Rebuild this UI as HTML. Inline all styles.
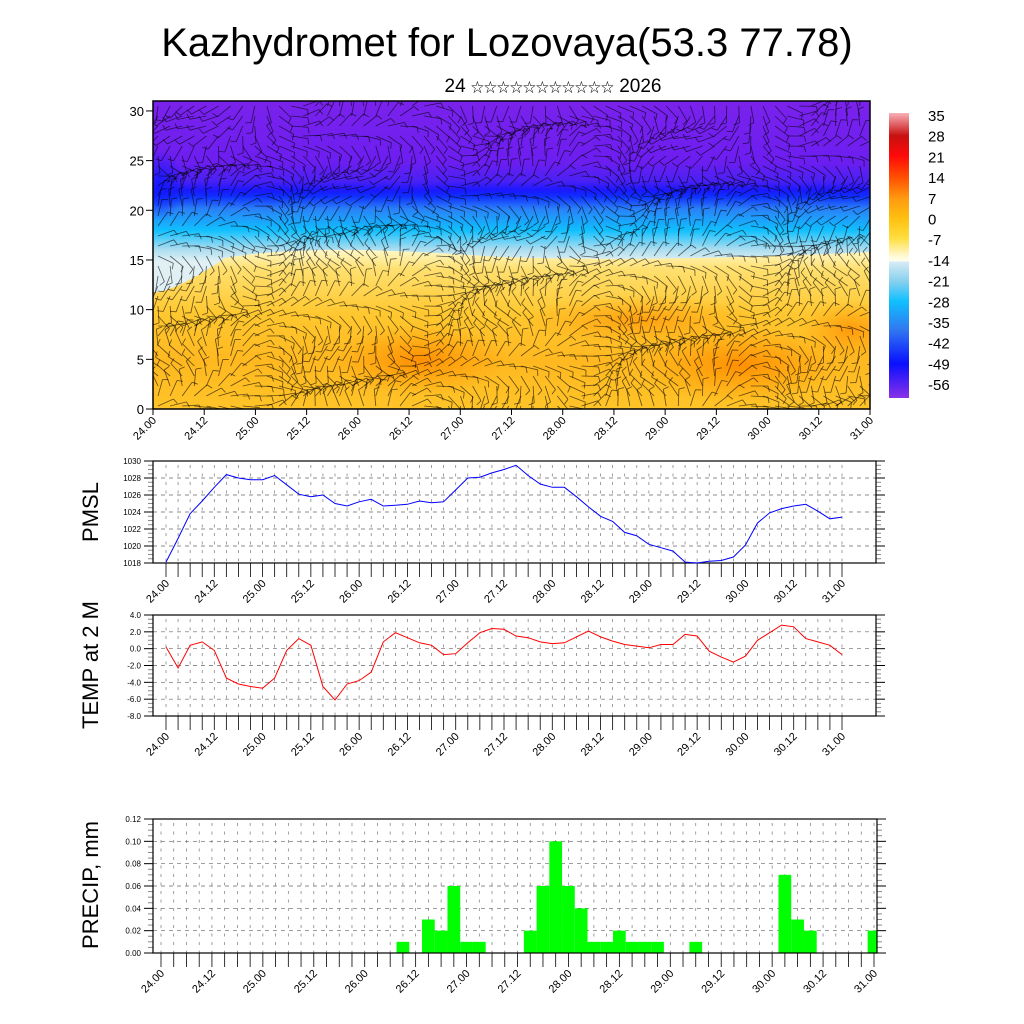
<!DOCTYPE html>
<html><head><meta charset="utf-8">
<style>
html,body{margin:0;padding:0;background:#fff;}
svg{display:block;font-family:"Liberation Sans","Noto Sans CJK SC",sans-serif;}
</style></head>
<body>
<svg id="chart" width="1024" height="1024" viewBox="0 0 1024 1024" xmlns="http://www.w3.org/2000/svg">
<defs>
<linearGradient id="coldGrad" x1="0" y1="101" x2="0" y2="409" gradientUnits="userSpaceOnUse">
  <stop offset="0" stop-color="#7a22ec"/>
  <stop offset="0.2" stop-color="#6c1ef0"/>
  <stop offset="0.26" stop-color="#4a20f4"/>
  <stop offset="0.29" stop-color="#1a18ff"/>
  <stop offset="0.31" stop-color="#1030ff"/>
  <stop offset="0.35" stop-color="#2a80f8"/>
  <stop offset="0.42" stop-color="#10c0ff"/>
  <stop offset="0.48" stop-color="#a8dcf0"/>
  <stop offset="0.52" stop-color="#e0f0f4"/>
  <stop offset="1" stop-color="#e0f0f4"/>
</linearGradient>
<linearGradient id="warmGrad" x1="0" y1="250" x2="0" y2="409" gradientUnits="userSpaceOnUse">
  <stop offset="0" stop-color="#fff8c8"/>
  <stop offset="0.12" stop-color="#ffe070"/>
  <stop offset="0.4" stop-color="#ffc830"/>
  <stop offset="0.7" stop-color="#ffb820"/>
  <stop offset="1" stop-color="#ffc428"/>
</linearGradient>
<radialGradient id="orangeBlob">
  <stop offset="0" stop-color="#ff8a00" stop-opacity="0.9"/>
  <stop offset="1" stop-color="#ff9a00" stop-opacity="0"/>
</radialGradient>
<radialGradient id="blueBlob">
  <stop offset="0" stop-color="#1018ff" stop-opacity="0.9"/>
  <stop offset="1" stop-color="#1018ff" stop-opacity="0"/>
</radialGradient>
<linearGradient id="cbarGrad" x1="0" y1="0" x2="0" y2="1">
  <stop offset="0" stop-color="#f8b0b8"/>
  <stop offset="0.08" stop-color="#c81010"/>
  <stop offset="0.15" stop-color="#ff0a0a"/>
  <stop offset="0.22" stop-color="#ff4a00"/>
  <stop offset="0.3" stop-color="#ff9a10"/>
  <stop offset="0.37" stop-color="#ffc010"/>
  <stop offset="0.44" stop-color="#ffde40"/>
  <stop offset="0.5" stop-color="#fff8d0"/>
  <stop offset="0.52" stop-color="#fffff0"/>
  <stop offset="0.521" stop-color="#d8ecf4"/>
  <stop offset="0.59" stop-color="#88d0f0"/>
  <stop offset="0.66" stop-color="#10c0ff"/>
  <stop offset="0.76" stop-color="#3078f0"/>
  <stop offset="0.88" stop-color="#0a10ff"/>
  <stop offset="1" stop-color="#8a30e8"/>
</linearGradient>
<clipPath id="topClip"><rect x="153" y="101" width="717" height="308"/></clipPath>
<clipPath id="precClip"><rect x="153" y="819" width="724" height="134"/></clipPath>
</defs>

<text x="507" y="56" text-anchor="middle" font-size="40">Kazhydromet for Lozovaya(53.3 77.78)</text>
<text x="553" y="92" text-anchor="middle" font-size="19">24 <tspan font-size="13">☆☆☆☆☆☆☆☆☆☆☆</tspan> 2026</text>

<g id="topPanel">
  <g clip-path="url(#topClip)">
    <rect x="153" y="101" width="717" height="308" fill="url(#coldGrad)"/>
    <ellipse cx="160" cy="185" rx="25" ry="35" fill="url(#blueBlob)"/>
    <path d="M153,293 C175,290 200,275 225,258 C300,245 400,250 500,257 C600,260 700,260 870,252 L870,409 L153,409 Z" fill="url(#warmGrad)"/>
    <ellipse cx="420" cy="360" rx="90" ry="35" fill="url(#orangeBlob)"/>
    <ellipse cx="740" cy="365" rx="100" ry="38" fill="url(#orangeBlob)"/>
    <ellipse cx="640" cy="320" rx="120" ry="25" fill="url(#orangeBlob)" opacity="0.7"/>
    <ellipse cx="850" cy="330" rx="50" ry="30" fill="url(#orangeBlob)" opacity="0.8"/>
    <g id="barbs" stroke="#000" stroke-opacity="0.6" stroke-width="0.85"></g>
  </g>
  <rect x="153" y="101" width="717" height="308" fill="none" stroke="#000" stroke-width="1.5"/>
  <g id="topAxes"></g>
</g>

<g id="colorbar">
  <rect x="889" y="113" width="20" height="285" fill="url(#cbarGrad)"/>
  <g id="cbarLabels" font-size="15"></g>
</g>

<text transform="translate(98,512) rotate(-90)" text-anchor="middle" font-size="22">PMSL</text>
<text transform="translate(98,665) rotate(-90)" text-anchor="middle" font-size="22">TEMP at 2 M</text>
<text transform="translate(98,885) rotate(-90)" text-anchor="middle" font-size="22">PRECIP, mm</text>

<g id="pmslPanel"></g>
<g id="tempPanel"></g>
<g id="precPanel"></g>
</svg>

<script>
const timeLabels = ["24.00","24.12","25.00","25.12","26.00","26.12","27.00","27.12","28.00","28.12","29.00","29.12","30.00","30.12","31.00"];
const pmslValues = [1018.1,1020.9,1023.8,1025.3,1026.9,1028.4,1028.0,1027.8,1027.8,1028.3,1027.2,1026.1,1025.8,1026.0,1025.0,1024.7,1025.2,1025.5,1024.7,1024.8,1024.9,1025.3,1025.1,1025.2,1026.6,1028.0,1028.1,1028.6,1029.0,1029.5,1028.3,1027.3,1026.9,1026.9,1025.8,1024.6,1023.5,1022.9,1021.6,1021.2,1020.2,1019.8,1019.4,1018.1,1018.0,1018.2,1018.3,1018.7,1020.1,1022.7,1023.9,1024.4,1024.7,1024.9,1024.1,1023.2,1023.4];
const pmslTicks = [1018,1020,1022,1024,1026,1028,1030];
const tempValues = [0.2,-2.3,0.4,0.8,-0.2,-3.5,-4.2,-4.5,-4.7,-3.5,-0.2,1.2,0.4,-4.5,-6.1,-4.2,-3.8,-2.8,0.8,1.9,1.3,0.7,0.4,-0.7,-0.6,0.7,1.9,2.4,2.3,1.5,1.3,0.8,0.6,0.7,1.4,2.1,1.4,0.9,0.5,0.3,0.1,0.5,0.5,1.7,1.5,-0.3,-1.0,-1.6,-0.9,1.0,1.9,2.8,2.6,1.2,0.8,0.4,-0.7];
const tempTicks = [-8,-6,-4,-2,0,2,4];
const tempTickLabels = ["-8.0","-6.0","-4.0","-2.0","0.0","2.0","4.0"];
const precipIndex = [19,21,22,23,24,25,29,30,31,32,33,34,35,36,37,38,39,42,49,50,51,56];
const precipValues = [0.01,0.03,0.02,0.06,0.01,0.01,0.02,0.06,0.10,0.06,0.04,0.01,0.01,0.02,0.01,0.01,0.01,0.01,0.07,0.03,0.02,0.02];
const precipTicks = [0,0.02,0.04,0.06,0.08,0.10,0.12];
const heightTicks = [0,5,10,15,20,25,30];
const cbarLabels = ["35","28","21","14","7","0","-7","-14","-21","-28","-35","-42","-49","-56"];

const NS="http://www.w3.org/2000/svg";
function mk(tag, attrs, parent){const e=document.createElementNS(NS,tag);for(const k in attrs)e.setAttribute(k,attrs[k]);parent.appendChild(e);return e;}

const cb=document.getElementById('cbarLabels');
cbarLabels.forEach((l,i)=>{
  const t=mk('text',{x:928,y:121+i*20.7},cb);
  
  
  t.textContent=l;
});

const ta=document.getElementById('topAxes');
const topX=i=>153+i*(717/14);
const topY=h=>409-h*(308/31);
heightTicks.forEach(h=>{
  mk('line',{x1:153,x2:146,y1:topY(h),y2:topY(h),stroke:'#000'},ta);
  const t=mk('text',{x:144,y:topY(h)+5,'text-anchor':'end','font-size':13},ta);
  
  
  t.textContent=h;
});
timeLabels.forEach((l,i)=>{
  const x=topX(i);
  mk('line',{x1:x,x2:x,y1:409,y2:415,stroke:'#000'},ta);
  const t=mk('text',{x:0,y:0,'text-anchor':'end','font-size':11,transform:`translate(${x+4},${421}) rotate(-45)`},ta);
  
  
  t.textContent=l;
});

const bg=document.getElementById('barbs');
for(let gx=0;gx<60;gx++){for(let gy=0;gy<31;gy++){
  const x=158+gx*12.1, y=106+gy*10;
  const a=Math.sin(gx*0.29+gy*0.41)*1.3+Math.cos(gy*0.37-gx*0.17)*1.1+(gy<14?0.6:-0.2);
  const L=17;
  const x2=x+L*Math.cos(a), y2=y+L*Math.sin(a);
  mk('line',{x1:x.toFixed(1),y1:y.toFixed(1),x2:x2.toFixed(1),y2:y2.toFixed(1)},bg);
  mk('line',{x1:x2.toFixed(1),y1:y2.toFixed(1),x2:(x2+6*Math.cos(a+1.3)).toFixed(1),y2:(y2+6*Math.sin(a+1.3)).toFixed(1)},bg);
}}

function linePanel(gid, top, bottom, vmin, vmax, ticks, tickLabels, values, color, name){
  const g=document.getElementById(gid);
  const L=153,R=876;
  const xs=i=>166+i*(676/56);
  const ys=v=>bottom-(v-vmin)/(vmax-vmin)*(bottom-top);
  ticks.forEach(v=>{ if(v!==vmin&&v!==vmax) mk('line',{x1:L,x2:R,y1:ys(v),y2:ys(v),stroke:'#666','stroke-width':0.7,'stroke-dasharray':'4,4'},g); });
  for(let i=0;i<57;i++){ mk('line',{x1:xs(i),x2:xs(i),y1:top+4,y2:bottom,stroke:'#777','stroke-width':0.7,'stroke-dasharray':'3,5.5'},g); }
  const step=(ticks[1]-ticks[0])/4;
  for(let v=vmin;v<=vmax+1e-9;v+=step){
    const major=ticks.some(t=>Math.abs(t-v)<1e-6);
    const len=major?9:5;
    mk('line',{x1:L,x2:L-len,y1:ys(v),y2:ys(v),stroke:major?'#000':'#888'},g);
    mk('line',{x1:R,x2:R+len,y1:ys(v),y2:ys(v),stroke:major?'#000':'#888'},g);
  }
  ticks.forEach((v,i)=>{
    const t=mk('text',{x:L-12,y:ys(v)+3,'text-anchor':'end','font-size':8},g);
    
    
    t.textContent=tickLabels[i];
  });
  for(let i=0;i<57;i++){ mk('line',{x1:xs(i),x2:xs(i),y1:bottom,y2:bottom+14,stroke:'#000','stroke-width':0.8},g); }
  timeLabels.forEach((l,i)=>{
    const x=xs(i*4);
    const t=mk('text',{x:0,y:0,'text-anchor':'end','font-size':11,transform:`translate(${x+4},${bottom+21}) rotate(-45)`},g);
    
    
    t.textContent=l;
  });
  const frame=mk('rect',{x:L,y:top,width:R-L,height:bottom-top,fill:'none',stroke:'#000','stroke-width':1.2},g);
  
  
  const pts=values.map((v,i)=>xs(i).toFixed(1)+','+ys(v).toFixed(1)).join(' ');
  const pl=mk('polyline',{points:pts,fill:'none',stroke:color,'stroke-width':1},g);
  
  
}
linePanel('pmslPanel',461,563,1018,1030,pmslTicks,pmslTicks.map(String),pmslValues,'#0000ff','pmsl');
linePanel('tempPanel',615,716,-8,4,tempTicks,tempTickLabels,tempValues,'#ff0000','temp');

(function(){
  const g=document.getElementById('precPanel');
  const top=819,bottom=953,L=153,R=877;
  const step=(874-161)/56;
  const xs=i=>161+i*step;
  const ys=v=>bottom-v/0.12*(bottom-top);
  precipTicks.forEach(v=>{ if(v>0&&v<0.12) mk('line',{x1:L,x2:R,y1:ys(v),y2:ys(v),stroke:'#666','stroke-width':0.7,'stroke-dasharray':'4,4'},g); });
  for(let i=0;i<57;i++) mk('line',{x1:xs(i),x2:xs(i),y1:top+4,y2:bottom,stroke:'#777','stroke-width':0.7,'stroke-dasharray':'3,5.5'},g);
  const bars=mk('g',{'clip-path':'url(#precClip)'},g);
  precipIndex.forEach((idx,k)=>{
    const r=mk('rect',{x:xs(idx)-step/2,y:ys(precipValues[k]),width:step,height:bottom-ys(precipValues[k]),fill:'#00ff00'},bars);
    
    
  });
  for(let v=0;v<=0.12+1e-9;v+=0.005){
    const major=precipTicks.some(t=>Math.abs(t-v)<1e-6);
    const len=major?9:5;
    mk('line',{x1:L,x2:L-len,y1:ys(v),y2:ys(v),stroke:major?'#000':'#888'},g);
    mk('line',{x1:R,x2:R+len,y1:ys(v),y2:ys(v),stroke:major?'#000':'#888'},g);
  }
  precipTicks.forEach(v=>{
    const t=mk('text',{x:L-12,y:ys(v)+3,'text-anchor':'end','font-size':8},g);
    
    
    t.textContent=v.toFixed(2);
  });
  for(let i=0;i<57;i++) mk('line',{x1:xs(i),x2:xs(i),y1:bottom,y2:bottom+14,stroke:'#000','stroke-width':0.8},g);
  timeLabels.forEach((l,i)=>{
    const x=xs(i*4);
    const t=mk('text',{x:0,y:0,'text-anchor':'end','font-size':11,transform:`translate(${x+4},${bottom+21}) rotate(-45)`},g);
    
    
    t.textContent=l;
  });
  const f=mk('rect',{x:L,y:top,width:R-L,height:bottom-top,fill:'none',stroke:'#000','stroke-width':1.2},g);
  
  
})();
</script>
</body></html>
